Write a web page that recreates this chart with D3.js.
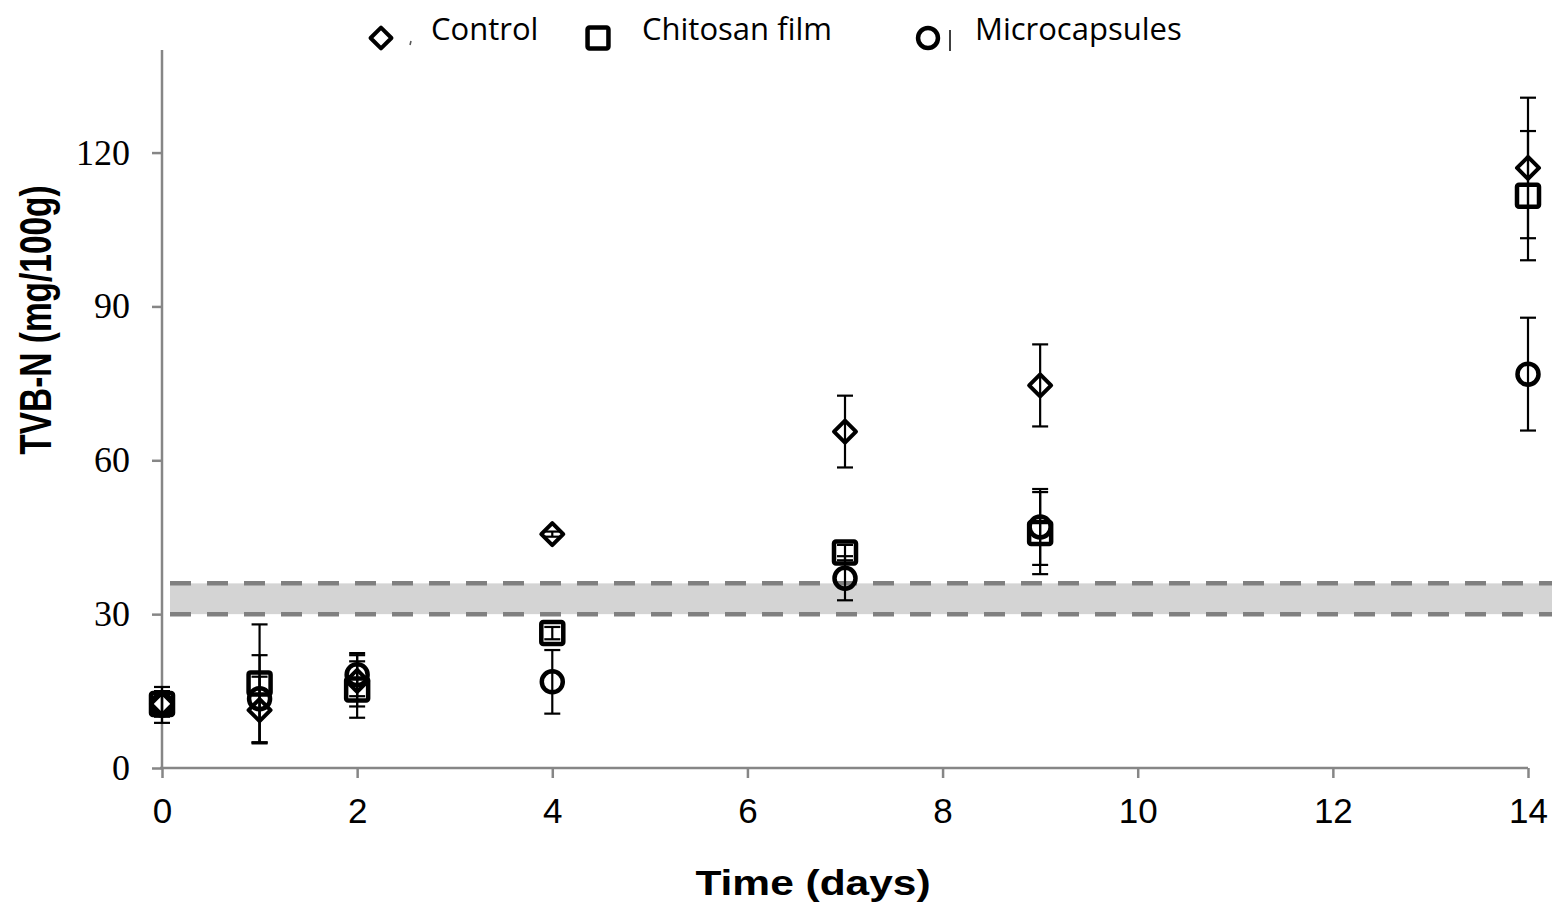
<!DOCTYPE html>
<html>
<head>
<meta charset="utf-8">
<script src="https://d3js.org/d3.v7.min.js"></script>
<style>
  body { margin: 0; background: #fff; }
</style>
</head>
<body>
<script>
// data
let days = [0, 1, 2, 4, 7, 9, 14];
let control = [12.5, 11.3, 17.0, 45.6, 65.6, 74.6, 117.0];
let controlErr = [2.5, 6.5, 5.0, 0.5, 7.0, 8.0, 13.7];
let chitosan = [12.5, 16.5, 15.3, 26.3, 42.0, 45.8, 111.6];
let chitosanErr = [2.0, 11.5, 5.5, 1.2, 1.5, 8.0, 12.6];
let micro = [12.3, 13.5, 18.2, 16.8, 37.0, 47.0, 76.8];
let microErr = [3.5, 8.5, 4.2, 6.2, 4.3, 7.4, 11.0];
let yTicks = [0, 30, 60, 90, 120];
let xTicks = [0, 2, 4, 6, 8, 10, 12, 14];
let limitBand = [30, 36];

let width = 1557, height = 916;
let svg = d3.select('body').append('svg')
    .attr('width', width)
    .attr('height', height);

let x = d3.scaleLinear().domain([0, 14]).range([162, 1528]);
let y = d3.scaleLinear().domain([0, 140]).range([768, 50]);
let axisColor = '#868686';

// limit band
svg.append('rect')
    .attr('x', 170).attr('width', 1552 - 170)
    .attr('y', y(limitBand[1])).attr('height', y(limitBand[0]) - y(limitBand[1]))
    .attr('fill', '#d4d4d4');
limitBand.forEach(function (v) {
    svg.append('line')
        .attr('x1', 170).attr('x2', 1552)
        .attr('y1', y(v)).attr('y2', y(v))
        .attr('stroke', '#808080').attr('stroke-width', 4.5)
        .attr('stroke-dasharray', '21 16');
});

// axes
let yAxis = svg.append('g').attr('transform', 'translate(162,0)')
    .call(d3.axisLeft(y).tickValues(yTicks).tickSize(10).tickPadding(22));
yAxis.select('.domain').attr('d', 'M0,' + y(0) + 'V' + y(140));
yAxis.selectAll('text')
    .attr('font-family', '"Liberation Serif", serif')
    .attr('font-size', 36).attr('fill', '#000');

let xAxis = svg.append('g').attr('transform', 'translate(0,768)')
    .call(d3.axisBottom(x).tickValues(xTicks).tickSize(10).tickPadding(20));
xAxis.select('.domain').attr('d', 'M160,0H' + x(14));
xAxis.selectAll('text')
    .attr('font-family', '"Liberation Sans", Arial, sans-serif')
    .attr('font-size', 35).attr('fill', '#000');

svg.selectAll('.domain, .tick line')
    .attr('stroke', axisColor).attr('stroke-width', 2.5);

// axis titles
svg.append('text')
    .attr('transform', 'translate(813,895) scale(1.18,1)')
    .attr('text-anchor', 'middle')
    .attr('font-family', '"Liberation Sans", Arial, sans-serif')
    .attr('font-weight', 'bold').attr('font-size', 36)
    .text('Time (days)');
svg.append('text')
    .attr('transform', 'translate(51,320) rotate(-90) scale(0.76,1)')
    .attr('text-anchor', 'middle')
    .attr('font-family', '"Liberation Sans", Arial, sans-serif')
    .attr('font-weight', 'bold').attr('font-size', 44)
    .text('TVB-N (mg/100g)');

// marker shapes
function drawMarker(g, shape, cx, cy, k) {
    k = k || 1;
    let h = 11 * k;
    if (shape === 'diamond') {
        g.append('path')
            .attr('d', 'M' + cx + ',' + (cy - h) + 'L' + (cx + h) + ',' + cy +
                'L' + cx + ',' + (cy + h) + 'L' + (cx - h) + ',' + cy + 'Z')
            .attr('fill', 'none').attr('stroke', '#000').attr('stroke-width', 4)
            .attr('stroke-linejoin', 'round');
    } else if (shape === 'square') {
        g.append('rect')
            .attr('x', cx - h).attr('y', cy - h)
            .attr('width', 2 * h).attr('height', 2 * h).attr('rx', 2)
            .attr('fill', 'none').attr('stroke', '#000').attr('stroke-width', 4.5);
    } else {
        g.append('circle')
            .attr('cx', cx).attr('cy', cy).attr('r', h - 0.5)
            .attr('fill', 'none').attr('stroke', '#000').attr('stroke-width', 4.5);
    }
}

let series = [
    { name: 'Control', shape: 'diamond', values: control, err: controlErr },
    { name: 'Chitosan film', shape: 'square', values: chitosan, err: chitosanErr },
    { name: 'Microcapsules', shape: 'circle', values: micro, err: microErr }
];

let plot = svg.append('g');
series.forEach(function (s) {
    let g = plot.append('g');
    days.forEach(function (d, i) {
        drawMarker(g, s.shape, x(d), y(s.values[i]));
    });
});
// error bars on top
series.forEach(function (s) {
    let g = plot.append('g').attr('stroke', '#000').attr('stroke-width', 2.2);
    days.forEach(function (d, i) {
        let cx = x(d);
        let top = y(s.values[i] + s.err[i]);
        let bot = y(s.values[i] - s.err[i]);
        g.append('line').attr('x1', cx).attr('x2', cx).attr('y1', top).attr('y2', bot);
        g.append('line').attr('x1', cx - 8).attr('x2', cx + 8).attr('y1', top).attr('y2', top);
        g.append('line').attr('x1', cx - 8).attr('x2', cx + 8).attr('y1', bot).attr('y2', bot);
    });
});

// legend
let legendPos = [[381, 431], [598, 642], [928, 975]];
series.forEach(function (s, i) {
    let g = svg.append('g');
    drawMarker(g, s.shape, legendPos[i][0], 38, 0.95);
    g.append('text')
        .attr('x', legendPos[i][1]).attr('y', 40)
        .attr('font-family', '"Open Sans", "Noto Sans", sans-serif')
        .attr('font-size', 31).attr('fill', '#000')
        .text(s.name);
});
// small leftover marks next to the legend symbols
svg.append('line').attr('x1', 411).attr('x2', 410).attr('y1', 41).attr('y2', 45)
    .attr('stroke', '#555').attr('stroke-width', 1.5);
svg.append('line').attr('x1', 950).attr('x2', 950).attr('y1', 30).attr('y2', 51)
    .attr('stroke', '#000').attr('stroke-width', 1.5);
</script>
</body>
</html>
